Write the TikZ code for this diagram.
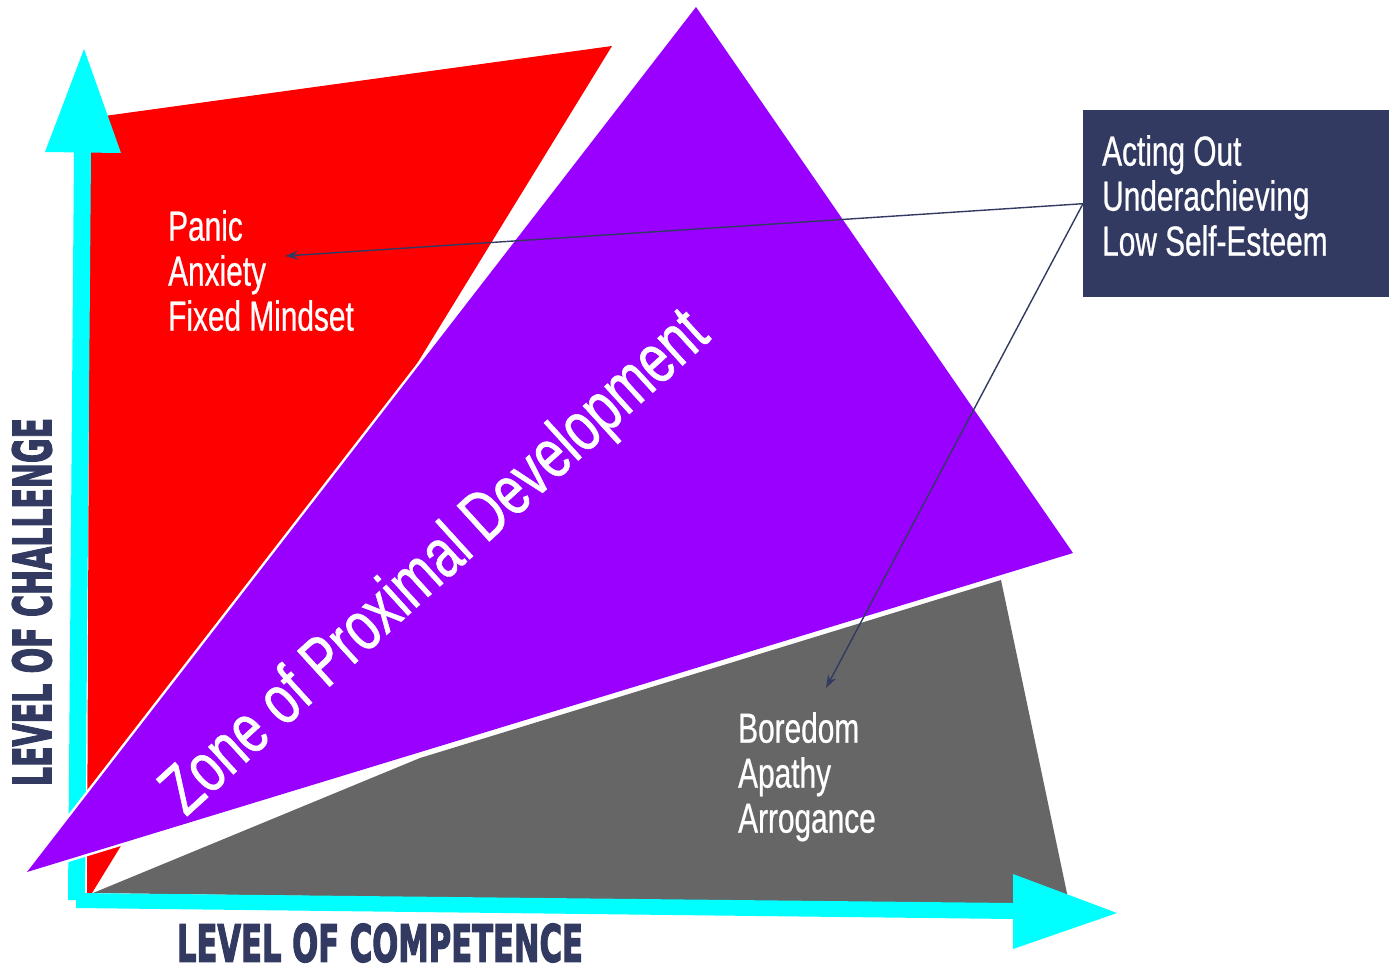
\documentclass[tikz,border=0pt]{standalone}
\usepackage{fontspec}
\usepackage{graphicx}
\usetikzlibrary{arrows.meta}
\newfontfamily\cond[FakeStretch=0.71, FakeBold=0.6]{Liberation Sans}
\newfontfamily\condz[FakeStretch=0.74, FakeBold=0.9]{Liberation Sans}
\newfontfamily\heavy[FakeBold=3]{DejaVu Sans}
\definecolor{zred}{HTML}{FE0000}
\definecolor{zpurple}{HTML}{9900FF}
\definecolor{zgrey}{HTML}{666666}
\definecolor{zcyan}{HTML}{00FFFF}
\definecolor{znavy}{HTML}{333A62}

\begin{document}
\begin{tikzpicture}[x=1pt,y=-1pt,
  lbl/.style={anchor=north west, inner sep=0pt, align=left, text=white,
    font=\cond\fontsize{42}{45}\selectfont},
  axislabel/.style={text=znavy, inner sep=0pt},
  pointer/.style={draw=znavy, line width=1.4pt, -{Stealth[length=13pt,width=9pt]}},
  ]
\useasboundingbox (0,0) rectangle (1389,969);

% zone of panic (upper left)
\fill[zred] (90,118) -- (612,46) -- (92,893) -- (87,893) -- cycle;
% zone of boredom (lower right)
\fill[zgrey] (93,893) -- (420,758) -- (1001,580) -- (1068,898) -- (1013,905) -- cycle;

% axes
\fill[zcyan] (68,900) -- (85,900) -- (91,152) -- (74,152) -- cycle;
\fill[zcyan] (45,152) -- (84,49) -- (121,153) -- cycle;
\fill[zcyan] (76,893) -- (1013,903) -- (1013,919) -- (76,908) -- cycle;
\fill[zcyan] (1013,874) -- (1117,913) -- (1013,949) -- cycle;

% zone of proximal development: white halo behind, then the fill
\draw[white, line width=5pt, line join=round] (696,7) -- (1073,553) -- (27,872) -- cycle;
\fill[zpurple] (696,7) -- (1073,553) -- (27,872) -- cycle;
\node[rotate=42.3, anchor=base, text=white, inner sep=0pt,
  font=\condz\fontsize{70}{70}\selectfont] (zpd) at (449,578) {Zone of Proximal Development};

% zone labels
\node[lbl] (panic) at (168,210) {Panic\\Anxiety\\Fixed Mindset};
\node[lbl] (bored) at (738,712) {Boredom\\Apathy\\Arrogance};

% behaviour box
\node[fill=znavy, minimum width=306pt, minimum height=187pt, anchor=north west,
  inner sep=0pt] (box) at (1083,110) {};
\node[lbl] (acting) at (1102,135) {Acting Out\\Underachieving\\Low Self-Esteem};

\coordinate (anx) at (285,256);
\coordinate (bor) at (826,688);
\draw[pointer] (box.west) -- (anx);
\draw[pointer] (box.west) -- (bor);

% axis titles
\node[axislabel] (xlab) at (380,943) {\resizebox{406pt}{38pt}{\heavy\bfseries LEVEL OF COMPETENCE}};
\node[axislabel, rotate=90] (ylab) at (32,602) {\resizebox{368pt}{39pt}{\heavy\bfseries LEVEL OF CHALLENGE}};
\end{tikzpicture}
\end{document}
